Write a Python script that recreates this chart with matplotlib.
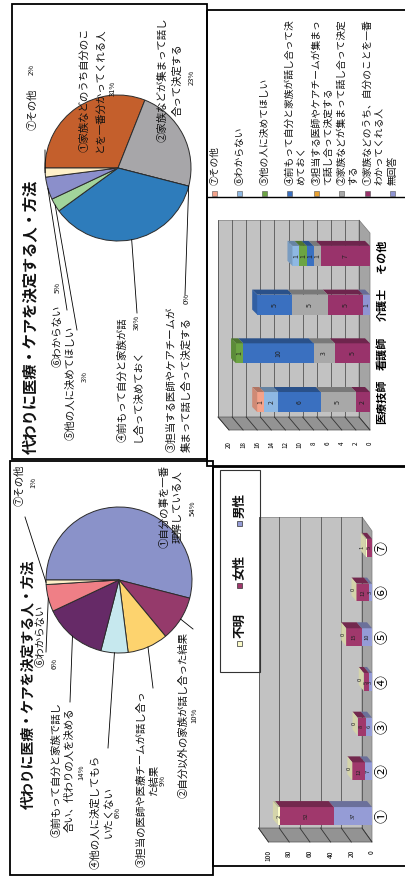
import numpy as np
import matplotlib.pyplot as plt
import matplotlib.colors as mcolors
from matplotlib.patches import Rectangle, Polygon

plt.rcParams['font.family'] = ['Noto Sans CJK JP', 'DejaVu Sans']

W, H = 406, 876

# ---- データ ----
# 円グラフ1（本人）
pie1_labels = ['①自分の事を一番\n理解している人', '②自分以外の家族が話し合った結果',
               '③担当の医師や医療チームが話し合っ\nた結果', '④他の人に決定してもら\nいたくない',
               '⑤前もって自分と家族で話し\n合い、代わりの人を決める', '⑥わからない', '⑦その他']
pie1_pct = [54, 10, 9, 6, 14, 6, 1]
pie1_colors = ['#8A92C9', '#953A6B', '#FDD36E', '#C6E8EE', '#662A67', '#EF7F86', '#FFF1C9']

# 円グラフ2（職員）
pie2_labels = ['①家族などのうち自分のこ\nとを一番分かってくれる人', '②家族などが集まって話し\n合って決定する',
               '③担当する医師やケアチームが\n集まって話し合って決定する', '④前もって自分と家族が話\nし合って決めておく',
               '⑤他の人に決めてほしい', '⑥わからない', '⑦その他']
pie2_pct = [31, 23, 0, 36, 3, 5, 2]
pie2_colors = ['#C45F2C', '#A7A6A9', '#E8A33C', '#2E7CBB', '#A2D49B', '#8B8FCB', '#FFF1C9']

# 棒グラフ1（性別）
bar1_cats = ['①', '②', '③', '④', '⑤', '⑥', '⑦']
bar1_male = [37, 7, 6, 3, 10, 3, 0]
bar1_female = [52, 12, 8, 5, 15, 12, 5]
bar1_unknown = [2, 0, 0, 0, 0, 0, 1]
bar1_names = ['男性', '女性', '不明']
bar1_colors = ['#959CD6', '#A0386C', '#FAFAC8']

# 棒グラフ2（職種）
bar2_cats = ['医療技師', '看護師', '介護士', 'その他']
bar2_names = ['無回答', '①家族などのうち、自分のことを一番\nわかってくれる人', '②家族などが集まって話し合って決定\nする',
              '③担当する医師やケアチームが集まっ\nて話し合って決定する', '④前もって自分と家族が話し合って決\nめておく',
              '⑤他の人に決めてほしい', '⑥わからない', '⑦その他']
bar2_noans = [0, 0, 1, 0]
bar2_s1 = [2, 5, 5, 7]
bar2_s2 = [5, 3, 5, 1]
bar2_s3 = [0, 0, 0, 0]
bar2_s4 = [6, 10, 5, 1]
bar2_s5 = [0, 1, 0, 1]
bar2_s6 = [2, 0, 0, 1]
bar2_s7 = [1, 0, 0, 0]
bar2_colors = ['#8F94D2', '#99336B', '#A8A8A8', '#E8A030', '#3A70C0', '#6CA443', '#8EB8E3', '#F4A28A']


def shade(c, f):
    return tuple(np.clip(np.array(mcolors.to_rgb(c)) * f, 0, 1))


def px_axes(fig, x0, y0, x1, y1):
    return fig.add_axes([x0 / W, 1 - y1 / H, (x1 - x0) / W, (y1 - y0) / H])


def draw_pie(fig, cx, cy, r, vals, colors):
    m = 1.03
    ax = px_axes(fig, cx - r * m, cy - r * m, cx + r * m, cy + r * m)
    ax.pie(vals, colors=colors, startangle=180, counterclock=False,
           wedgeprops=dict(edgecolor='#2b2b2b', linewidth=0.7))
    ax.set_xlim(-m, m)
    ax.set_ylim(-m, m)
    # 各扇形の中央角度（引出線用）
    v = np.asarray(vals, float)
    cum = np.cumsum(v)
    mid = np.radians(180 - 360 * (cum - v / 2) / v.sum())
    return [(cx + r * np.cos(a), cy - r * np.sin(a)) for a in mid]


def chart_axes(fig, x0, x1, y0, y1, zero_px, scale, base_py, step):
    ax = px_axes(fig, x0, y0, x1, y1)
    ax.set_xlim((zero_px - x0) / scale, (zero_px - x1) / scale)
    ax.set_ylim((base_py - y1) / step, (base_py - y0) / step)
    ax.set_facecolor('none')
    for s in ax.spines.values():
        s.set_visible(False)
    return ax


def draw_walls(ax, vmax, ticks, bx, by, floor_i, top_i):
    ax.add_patch(Rectangle((bx, floor_i + by), vmax, top_i - floor_i - by,
                           fc='#C2C2C2', ec='#7a7a7a', lw=0.5, zorder=1))
    ax.add_patch(Polygon([(0, floor_i), (bx, floor_i + by), (bx, top_i), (0, top_i - by)],
                         fc='#A4A4A4', ec='#7a7a7a', lw=0.5, zorder=1))
    ax.add_patch(Polygon([(0, floor_i), (vmax, floor_i), (vmax + bx, floor_i + by), (bx, floor_i + by)],
                         fc='#939393', ec='#555555', lw=0.5, zorder=1))
    for t in ticks:
        ax.plot([t + bx, t + bx], [floor_i + by, top_i], color='#555555', lw=0.6, zorder=2)
        ax.plot([t, t + bx], [floor_i, floor_i + by], color='#333333', lw=0.6, zorder=2)


def draw_stack(ax, series, colors, h, dx, dy, fs, keep_last_zero=False):
    n = len(series[0])
    y = np.arange(n)
    left = np.zeros(n)
    tops = [None] * n
    last = len(series) - 1
    for k, (vals, col) in enumerate(zip(series, colors)):
        vals = np.asarray(vals, float)
        ax.barh(y, vals, height=2 * h, left=left, color=col, edgecolor='none', zorder=3)
        for i in range(n):
            if vals[i] > 0:
                a, b = left[i], left[i] + vals[i]
                ax.add_patch(Polygon([(a, i + h), (b, i + h), (b + dx, i + h + dy), (a + dx, i + h + dy)],
                                     fc=shade(col, 0.72), ec='none', zorder=3))
                tx = (a + b) / 2
                if keep_last_zero and k == last and vals[i] <= 1:
                    tx = b + dx * 0.75   # 細い区間は上面に表示
                ax.text(tx, i, f'{vals[i]:g}', rotation=90, ha='center', va='center',
                        fontsize=fs, color='#222222', zorder=5)
                tops[i] = (b, col, vals[i])
        left += vals
    for i in range(n):
        if keep_last_zero and series[-1][i] == 0:
            tops[i] = (left[i], colors[-1], 0)
        if tops[i] is None:
            continue
        b, col, v = tops[i]
        ax.add_patch(Polygon([(b, i - h), (b, i + h), (b + dx, i + h + dy), (b + dx, i - h + dy)],
                             fc=shade(col, 0.85), ec='none', zorder=4))
        if v == 0:
            ax.text(b + dx * 0.6, i + dy / 2, '0', rotation=90, ha='center', va='center',
                    fontsize=fs, color='#222222', zorder=5)


fig = plt.figure(figsize=(W / 100, H / 100), dpi=100)
fig.patch.set_facecolor('white')

# ---- 円グラフ ----
p1_pts = draw_pie(fig, 119, 580, 73, pie1_pct, pie1_colors)
p2_pts = draw_pie(fig, 118, 168, 73, pie2_pct, pie2_colors)

# ---- 棒グラフ1（右下） ----
ax1 = chart_axes(fig, 255, 373, 510, 848, 372, 1.035, 816, 44.7)
draw_walls(ax1, 100, range(0, 101, 20), 9.66, 0.313, -0.582, 6.69)
draw_stack(ax1, [bar1_male, bar1_female, bar1_unknown], bar1_colors, 0.2, 4.8, 0.134, 4.2,
           keep_last_zero=True)
ax1.set_xticks(range(0, 101, 20), [str(v) for v in range(0, 101, 20)], rotation=90, fontsize=4.8)
ax1.set_yticks(range(len(bar1_cats)), bar1_cats, rotation=90, fontsize=10, va='center')
ax1.yaxis.tick_right()
ax1.tick_params(length=0, pad=1.5)

# ---- 棒グラフ2（右上） ----
ax2 = chart_axes(fig, 212, 371, 212, 437, 370, 7.05, 402, 48.7)
draw_walls(ax2, 20, range(0, 21, 2), 1.56, 0.267, -0.575, 3.737)
bar2_series = [bar2_noans, bar2_s1, bar2_s2, bar2_s3, bar2_s4, bar2_s5, bar2_s6, bar2_s7]
draw_stack(ax2, bar2_series, bar2_colors, 0.205, 0.71, 0.103, 5)
ax2.set_xticks(range(0, 21, 2), [str(v) for v in range(0, 21, 2)], rotation=90, fontsize=4.5)
ax2.set_yticks(range(len(bar2_cats)), bar2_cats, rotation=90, fontsize=8, va='center',
               fontweight='bold')
ax2.yaxis.tick_right()
ax2.tick_params(length=0, pad=3)

# ---- 重ね描き（枠・文字） ----
ov = fig.add_axes([0, 0, 1, 1])
ov.set_xlim(0, W)
ov.set_ylim(H, 0)
ov.axis('off')
ov.patch.set_alpha(0)


def vtext(x, y, s, fs, ha='center', va='center', weight='normal'):
    ov.text(x, y, s, fontsize=fs, rotation=90, rotation_mode='anchor', ha=ha, va=va,
            fontweight=weight, color='#111111', linespacing=1.15)


def vlines(x, y, s, fs, ha='center', step=12.5):
    lines = s.split('\n')
    for k, ln in enumerate(lines):
        vtext(x + (k - (len(lines) - 1) / 2) * step, y, ln, fs, ha=ha)


for (x0, y0, x1, y1) in [(12, 4, 207, 459), (207, 10, 412, 466), (10, 461, 213, 875), (213, 467, 412, 866)]:
    ov.add_patch(Rectangle((x0, y0), x1 - x0, y1 - y0, fill=False, ec='black', lw=1.3))
ov.plot([207, 406], [197, 197], color='black', lw=1.0)

# タイトル
vtext(30, 317, '代わりに医療・ケアを決定する人・方法', 11, weight='bold')
vtext(28, 684, '代わりに医療・ケアを決定する人・方法', 10, weight='bold')

# 円グラフ1 ラベル
p1_name_xy = [(171, 507, 'center'), (183, 715, 'center'), (148, 779, 'center'), (102, 812, 'center'),
              (63, 770, 'center'), (41, 636, 'center'), (19, 485, 'center')]
p1_pct_xy = [(193, 508), (194, 715), (163, 780), (118, 812), (81, 772), (55, 663), (33, 482)]
p1_lead = [None, (193, 629), (153, 688), (108, 748), (70, 702), (46, 652), (25, 517)]
for lab, pct, (x, y, ha), (px, py), end, st in zip(pie1_labels, pie1_pct, p1_name_xy, p1_pct_xy, p1_lead, p1_pts):
    vlines(x, y, lab, 7.5, ha=ha)
    vtext(px, py, f'{pct}%', 5.5)
    if end is not None:
        ov.plot([st[0], end[0]], [st[1], end[1]], color='black', lw=0.6)

# 円グラフ2 ラベル
p2_name_xy = [(92, 90, 'center'), (170, 80, 'center'), (179, 452, 'left'), (130, 442, 'left'),
              (70, 440, 'left'), (58, 367, 'left'), (32, 130, 'left')]
p2_pct_xy = [(113, 88), (192, 77), (187, 298), (137, 322), (85, 377), (58, 287), (32, 69)]
p2_lead = [None, None, (185, 295), (137, 313), (77, 330), (67, 310), (45, 150)]
for lab, pct, (x, y, ha), (px, py), end, st in zip(pie2_labels, pie2_pct, p2_name_xy, p2_pct_xy, p2_lead, p2_pts):
    vlines(x, y, lab, 7.5, ha=ha, step=15)
    vtext(px, py, f'{pct}%', 5.5)
    if end is not None:
        ov.plot([st[0], end[0]], [st[1], end[1]], color='black', lw=0.6)

# 棒グラフ1 凡例
ov.add_patch(Rectangle((220, 470), 40, 202, fill=False, ec='#333333', lw=0.8))
for name, col, my in zip(bar1_names, bar1_colors, [523, 585, 643]):
    ov.add_patch(Rectangle((237.5, my - 2.5), 5, 5, fc=col, ec='#333333', lw=0.5))
    vtext(240, my - 5, name, 9, ha='left', weight='bold')

# 棒グラフ2 凡例
leg2_x = [393, 368, 342, 317, 290, 265, 240, 215]
for name, col, lx in zip(bar2_names, bar2_colors, leg2_x):
    ov.add_patch(Rectangle((lx - 2.5, 190.5), 5, 5, fc=col, ec='#555555', lw=0.4))
    vtext(lx - 5.5, 185, name, 7, ha='left', va='top')

fig.savefig('out.png', dpi=100, facecolor='white')
